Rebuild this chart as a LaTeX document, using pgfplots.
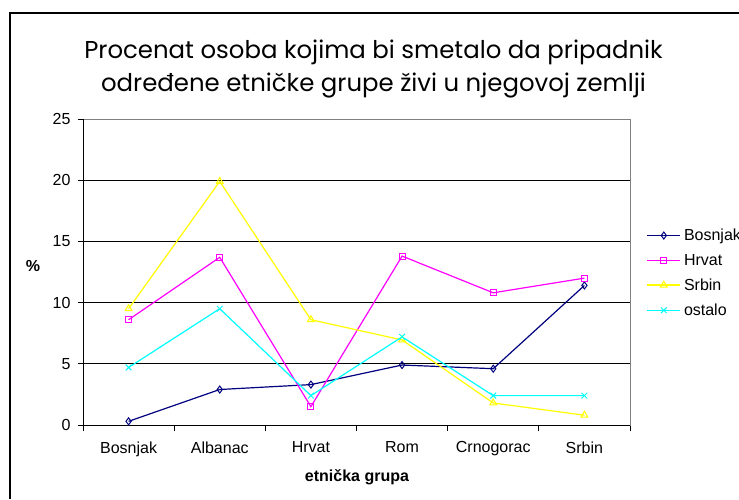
\documentclass[border=0pt]{standalone}
\usepackage{fontspec}
\setmainfont{Liberation Sans}
\newfontfamily\titlefont{Poppins}
\usepackage{pgfplots}
\pgfplotsset{compat=1.18}
\definecolor{cBos}{HTML}{000080}
\definecolor{cHrv}{HTML}{FF00FF}
\definecolor{cSrb}{HTML}{FFFF00}
\definecolor{cOst}{HTML}{00FFFF}
\begin{document}
\begin{tikzpicture}
\useasboundingbox (0pt,0pt) rectangle (739pt,499pt);
\clip (0pt,0pt) rectangle (739pt,499pt);
\fill[white] (0pt,0pt) rectangle (739pt,499pt);
\node[font=\titlefont\fontsize{24.4}{30}\selectfont, anchor=base, inner sep=0pt] at (373.5pt,440pt) {Procenat osoba kojima bi smetalo da pripadnik};
\node[font=\titlefont\fontsize{24.4}{30}\selectfont, anchor=base, inner sep=0pt] at (373.5pt,407pt) {određene etničke grupe živi u njegovoj zemlji};
\node[font=\bfseries\fontsize{16}{19}\selectfont] at (33pt,233pt) {\%};
\node[font=\bfseries\fontsize{16}{19}\selectfont] at (357pt,22pt) {etnička grupa};
\begin{axis}[
  at={(83pt,74pt)}, anchor=south west,
  scale only axis, width=547pt, height=306pt,
  xmin=-0.5, xmax=5.5, ymin=0, ymax=25,
  xtick={0,...,5},
  xticklabels={Bosnjak,Albanac,Hrvat,Rom,Crnogorac,Srbin},
  minor xtick={-0.5,0.5,...,5.5},
  ytick={0,5,...,25},
  tick align=outside,
  major tick length=5pt, minor tick length=6pt,
  major x tick style={draw=none},
  tick style={black, line width=0.8pt},
  xtick pos=bottom, ytick pos=left,
  ymajorgrids, grid style={black, line width=0.8pt},
  axis line style={draw=gray, line width=0.9pt},
  ticklabel style={font=\fontsize{16}{19}\selectfont},
  xticklabel style={yshift=-8pt},
  yticklabel style={xshift=-4pt},
  /pgf/number format/assume math mode=true,
  legend style={at={(axis description cs:1.03,0.497)}, anchor=west, draw=none, fill=none,
    font=\fontsize{16}{19}\selectfont, row sep=10pt, column sep=2pt, inner sep=0pt,
    nodes={inner sep=1pt}},
  legend cell align=left,
  legend image code/.code={\draw[#1,line width=1.4pt,mark repeat=2,mark phase=2] plot coordinates {(0pt,0pt) (16.5pt,0pt) (33pt,0pt)};},
]
\addplot[cBos, line width=1.2pt, mark=diamond, mark size=3.5pt, mark options={line width=1pt}] coordinates {(0,0.3) (1,2.9) (2,3.3) (3,4.9) (4,4.6) (5,11.4)};
\addplot[cHrv, line width=1.2pt, mark=square, mark size=3pt, mark options={line width=1pt}] coordinates {(0,8.6) (1,13.7) (2,1.5) (3,13.8) (4,10.8) (5,12.0)};
\addplot[cSrb, line width=1.2pt, mark=triangle, mark size=4pt, mark options={line width=1pt}] coordinates {(0,9.5) (1,19.9) (2,8.6) (3,6.95) (4,1.8) (5,0.8)};
\addplot[cOst, line width=1.2pt, mark=x, mark size=4pt, mark options={line width=1pt}] coordinates {(0,4.7) (1,9.5) (2,2.4) (3,7.2) (4,2.4) (5,2.4)};
\legend{Bosnjak,Hrvat,Srbin,ostalo}
\draw[black, line width=0.9pt] (rel axis cs:0,0) -- (rel axis cs:0,1);
\draw[black, line width=0.9pt] (rel axis cs:0,0) -- (rel axis cs:1,0);
\end{axis}
\fill[black] (9pt,0pt) rectangle (11pt,487pt);
\fill[black] (9pt,485pt) rectangle (739pt,487pt);
\end{tikzpicture}
\end{document}
